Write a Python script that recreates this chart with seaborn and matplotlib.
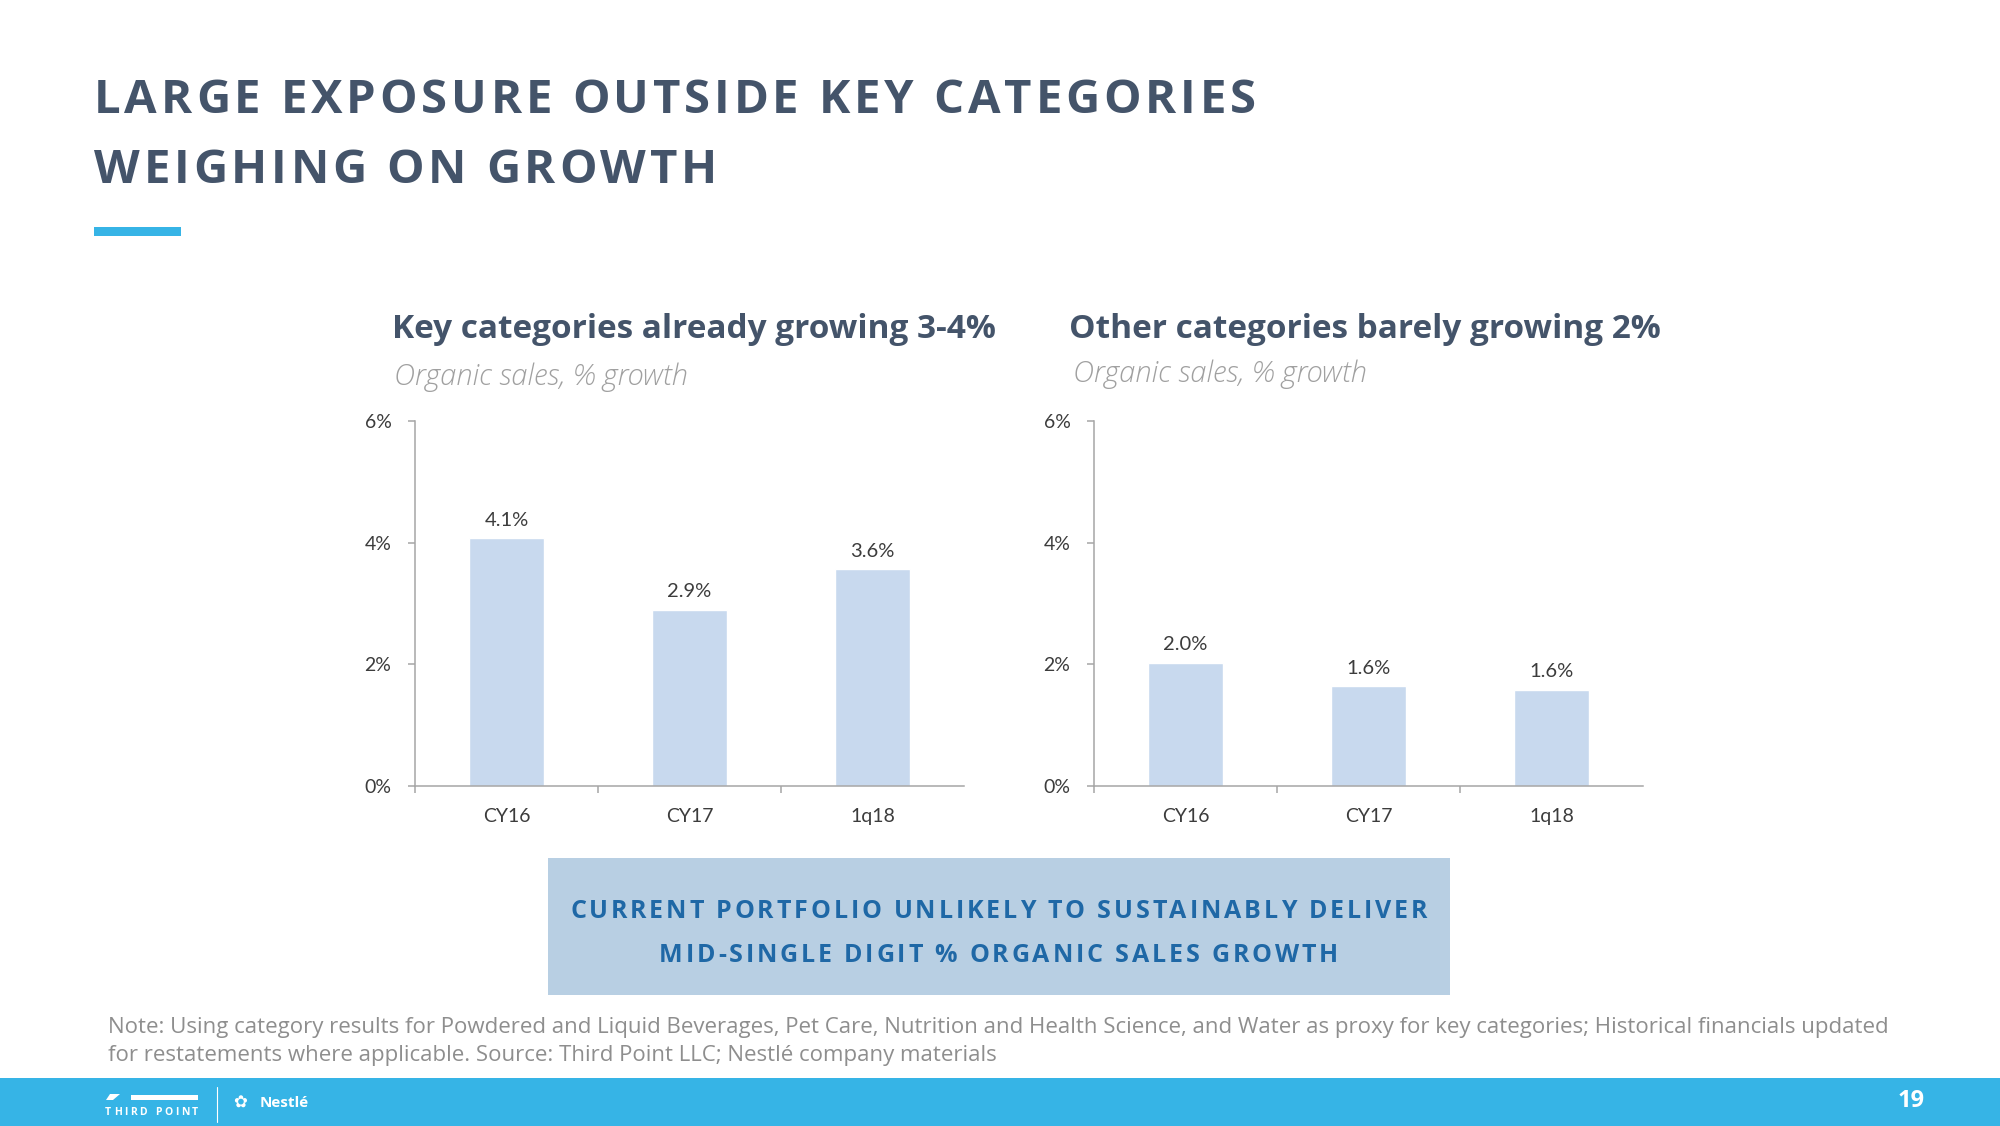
import matplotlib
matplotlib.use("Agg")
import matplotlib.pyplot as plt
import seaborn as sns
import pandas as pd
from matplotlib.patches import Rectangle, Polygon
from matplotlib.ticker import FixedLocator

# datos de la lamina
periods = ["CY16", "CY17", "1q18"]
key_growth = [4.07, 2.89, 3.56]
other_growth = [2.03, 1.64, 1.58]
y_ticks = [0, 2, 4, 6]

title_lines = ["LARGE EXPOSURE OUTSIDE KEY CATEGORIES", "WEIGHING ON GROWTH"]
left_title = "Key categories already growing 3-4%"
right_title = "Other categories barely growing 2%"
sub_title = "Organic sales, % growth"
box_lines = ["CURRENT PORTFOLIO UNLIKELY TO SUSTAINABLY DELIVER",
             "MID-SINGLE DIGIT % ORGANIC SALES GROWTH"]
note_lines = ["Note: Using category results for Powdered and Liquid Beverages, Pet Care, Nutrition and Health Science, and Water as proxy for key categories; Historical financials updated",
              "for restatements where applicable. Source: Third Point LLC; Nestlé company materials"]

SLATE = "#44546a"
BAR = "#c8d9ee"
SKY = "#36b4e6"
AXIS = "#a6a6a6"
LABEL = "#3c3c3c"
CHART_FONT = ["Lato", "DejaVu Sans"]

W, H = 2000, 1126

sns.set_theme(style="white")
plt.rcParams["font.family"] = ["Open Sans", "DejaVu Sans"]

fig = plt.figure(figsize=(20, 11.26), dpi=100)
fig.patch.set_facecolor("white")


def fx(x):
    return x / W


def fy(y):
    return 1 - y / H


def spaced(x0, y, s, width, **kw):
    # texto con espaciado entre letras, ajustado a un ancho dado
    r = fig.canvas.get_renderer()

    def tw(txt):
        t = fig.text(0, 0, txt, **kw)
        w = t.get_window_extent(r).width
        t.remove()
        return w

    hh = tw("HH")
    adv = [tw("H" + c + "H") - hh for c in s]
    gap = (width - sum(adv)) / (len(s) - 1)
    x = x0
    for c, a in zip(s, adv):
        if c != " ":
            fig.text(fx(x), fy(y), c, va="baseline", ha="left", **kw)
        x += a + gap


# titulo principal
spaced(94, 113, title_lines[0], 1162, fontsize=34, fontweight="bold", color=SLATE)
spaced(94, 183, title_lines[1], 623, fontsize=34, fontweight="bold", color=SLATE)
fig.add_artist(Rectangle((fx(94), fy(236)), 87 / W, 9 / H, transform=fig.transFigure,
                         color=SKY, lw=0))


def draw_chart(ax, values, title, tx, ty, sx, sy):
    df = pd.DataFrame({"period": periods, "growth": values})
    sns.barplot(data=df, x="period", y="growth", ax=ax, color=BAR, width=0.41,
                saturation=1, errorbar=None)
    ax.set_xlim(-0.5, 2.5)
    ax.set_ylim(0, 6)
    ax.set_yticks(y_ticks)
    ax.set_yticklabels([f"{t}%" for t in y_ticks])
    ax.set_xlabel("")
    ax.set_ylabel("")
    for side in ["top", "right"]:
        ax.spines[side].set_visible(False)
    for side in ["left", "bottom"]:
        ax.spines[side].set_color(AXIS)
        ax.spines[side].set_linewidth(1.1)
    ax.xaxis.set_minor_locator(FixedLocator([-0.5, 0.5, 1.5]))
    ax.tick_params(axis="x", which="major", length=0, pad=15.5, labelsize=14,
                   labelcolor=LABEL)
    ax.tick_params(axis="x", which="minor", length=5, width=1.1, color=AXIS,
                   direction="out", bottom=True)
    ax.tick_params(axis="y", length=5, width=1.1, color=AXIS, direction="out",
                   left=True, pad=12, labelsize=14, labelcolor=LABEL)
    for lab in ax.get_xticklabels() + ax.get_yticklabels():
        lab.set_family(CHART_FONT)
    ax.bar_label(ax.containers[0], labels=[f"{v:.1f}%" for v in values],
                 padding=7, fontsize=14.5, color=LABEL, family=CHART_FONT)
    ax.set_facecolor("none")
    fig.text(fx(tx), fy(ty), title, fontsize=24, fontweight="bold", color=SLATE,
             va="center", ha="left")
    fig.text(fx(sx), fy(sy), sub_title, fontsize=21, style="italic", fontweight="light",
             color="#a0a0a0", va="center", ha="left")


ax1 = fig.add_axes([fx(415), fy(786), 549 / W, 365 / H])
draw_chart(ax1, key_growth, left_title, 392, 330, 394, 377)
ax2 = fig.add_axes([fx(1094), fy(786), 549 / W, 365 / H])
draw_chart(ax2, other_growth, right_title, 1069, 330, 1073, 374)

# recuadro de conclusion
fig.add_artist(Rectangle((fx(548), fy(995)), 902 / W, 137 / H, transform=fig.transFigure,
                         color="#b8cfe3", lw=0))
spaced(570, 918, box_lines[0], 857, fontsize=18, fontweight="bold", color="#1f68a6")
spaced(659, 962, box_lines[1], 679, fontsize=18, fontweight="bold", color="#1f68a6")

# nota al pie
fig.text(fx(108), fy(1028), note_lines[0], fontsize=16, color="#8e8e8e", va="center")
fig.text(fx(108), fy(1056), note_lines[1], fontsize=16, color="#8e8e8e", va="center")

# banda inferior
fig.add_artist(Rectangle((0, 0), 1, (H - 1078) / H, transform=fig.transFigure,
                         color=SKY, lw=0))
fig.add_artist(Polygon([(fx(106), fy(1100)), (fx(110), fy(1094)), (fx(120), fy(1094)),
                        (fx(113), fy(1100))], closed=True, transform=fig.transFigure,
                       color="white", lw=0))
fig.add_artist(Rectangle((fx(131), fy(1100)), 67 / W, 5 / H, transform=fig.transFigure,
                         color="white", lw=0))
spaced(105, 1115, "THIRD POINT", 93, fontsize=7.5, fontweight="bold", color="white")
fig.add_artist(plt.Line2D([fx(217), fx(217)], [fy(1087), fy(1122)], transform=fig.transFigure,
                          color="white", lw=0.8))
fig.text(fx(233), fy(1103), "✿", fontsize=12, color="white", va="center", ha="left",
         family=["DejaVu Sans"])
fig.text(fx(260), fy(1103), "Nestlé", fontsize=11, fontweight="bold", color="white",
         va="center", ha="left")
fig.text(fx(1911), fy(1101), "19", fontsize=17, fontweight="bold", color="white",
         va="center", ha="center")

fig.savefig("out.png", dpi=100)
